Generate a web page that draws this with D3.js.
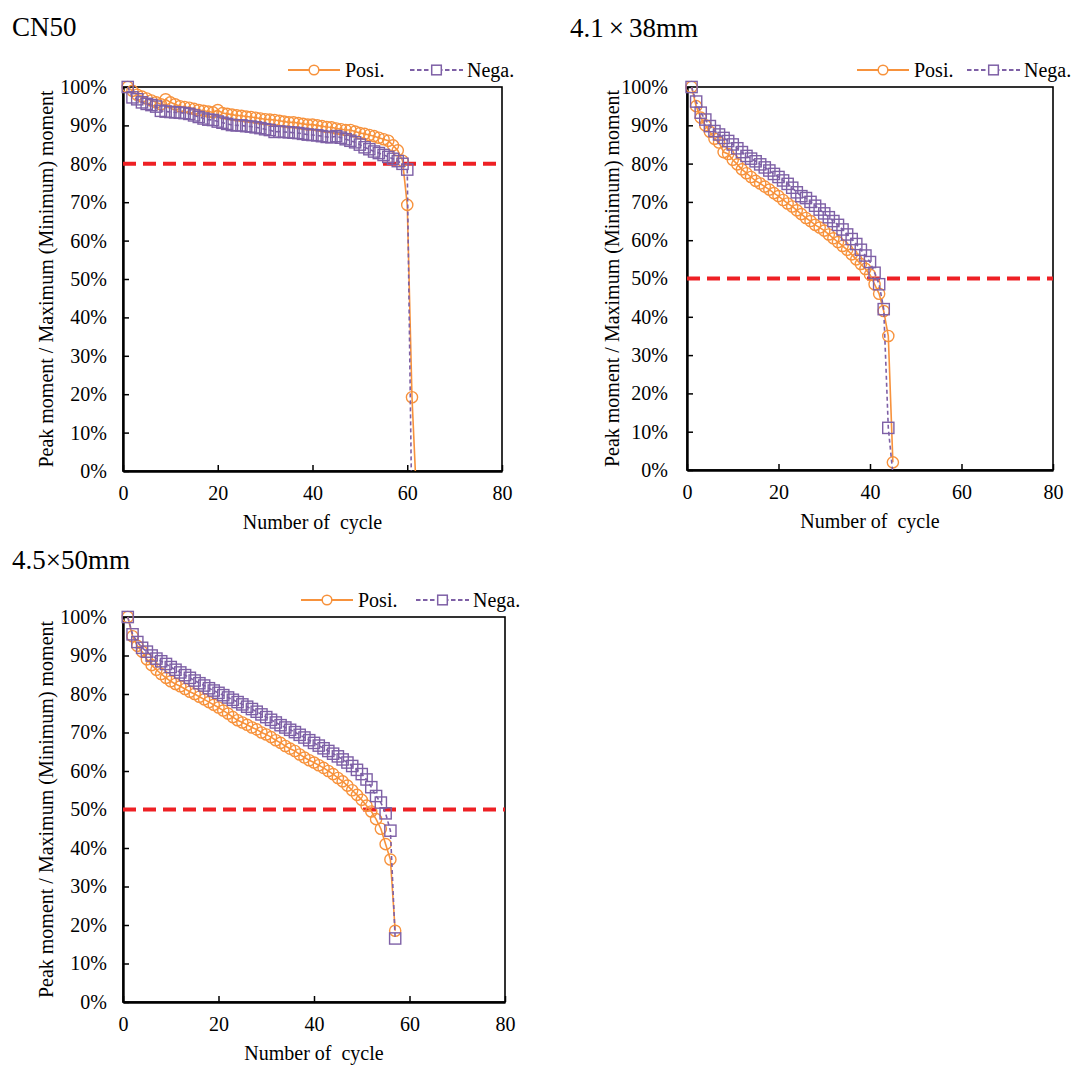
<!DOCTYPE html>
<html>
<head>
<meta charset="utf-8">
<script src="https://cdn.jsdelivr.net/npm/d3@7"></script>
<style>
  body { margin: 0; background: #fff; }
  svg text { font-family: "Liberation Serif", "Times New Roman", serif; fill: #000; }
</style>
</head>
<body>
<div id="chart"></div>
<script>
// values are % of the first-cycle peak moment, one entry per cycle starting at cycle 1
const cn50Posi = [100, 99, 98, 97.5, 97, 96.5, 96, 95.5, 96.8, 96,
  95.5, 95, 94.8, 94.6, 94.3, 94, 93.8, 93.6, 93.4, 94,
  93.2, 93, 92.8, 92.6, 92.5, 92.3, 92.2, 92, 91.8, 91.6,
  91.5, 91.4, 91.2, 91, 90.8, 90.8, 90.6, 90.4, 90.2, 90.2,
  90, 89.8, 89.6, 89.5, 89.2, 89, 88.8, 88.8, 88.4, 88,
  87.8, 87.5, 87.2, 86.8, 86.4, 86, 84.8, 83.5, 80.8, 69.3,
  19.2, -8];
const cn50Nega = [100, 97.3, 96.8, 96, 95.6, 95.3, 94.9, 93.8, 93.6, 93.5,
  93.4, 93.3, 93.2, 93, 92.6, 92.2, 91.8, 91.5, 91.4, 91,
  90.7, 90.4, 90.1, 90, 90, 89.8, 89.7, 89.5, 89.3, 89,
  88.8, 88.3, 88.4, 88.3, 88.2, 88.1, 88, 87.8, 87.6, 87.5,
  87.4, 87.2, 87, 86.9, 87.2, 86.8, 86.4, 86, 85.6, 85,
  84.3, 83.8, 83.2, 82.8, 82.3, 81.8, 81.3, 80.7, 80, 78.5,
  -14];
const s41Posi = [100, 95, 92, 90, 88.3, 86.5, 85.5, 83, 82.5, 81,
  79.8, 78.5, 77.5, 76.5, 75.5, 74.8, 74, 73.2, 72.3, 71.5,
  70.5, 69.6, 68.8, 67.8, 66.8, 65.8, 65, 64, 63.3, 62.5,
  61.5, 60.5, 59.5, 58.5, 57.5, 56.3, 55, 53.8, 52.5, 51,
  48.5, 46, 41.5, 35, 2];
const s41Nega = [100, 96.2, 93.3, 91.5, 89.8, 88.5, 87.6, 86.7, 85.9, 85,
  84, 83, 82, 81.3, 80.6, 79.8, 79, 78.2, 77.3, 76.5,
  75.6, 74.7, 73.7, 72.5, 71.5, 71, 70, 69, 68, 67,
  66, 65, 64, 62.8, 61.5, 60.3, 59, 57.5, 56, 54.3,
  51.5, 48.5, 42, 11, -1];
const s45Posi = [100, 95, 92.5, 91, 89, 87.5, 86.3, 85.2, 84.2, 83.3,
  82.6, 82, 81.3, 80.6, 80, 79.3, 78.6, 77.9, 77.2, 76.5,
  75.7, 74.9, 74, 73.2, 72.6, 72, 71.3, 70.8, 70, 69.5,
  68.8, 68, 67.3, 66.5, 65.8, 65.2, 64.3, 63.5, 62.8, 62.2,
  61.5, 60.8, 60, 59.2, 58.2, 57.3, 56.2, 55, 53.8, 52.5,
  51, 49.5, 47.5, 45, 41, 37, 18.5];
const s45Nega = [100, 95.5, 93.5, 92, 91, 90, 89.2, 88.5, 87.8, 87,
  86.3, 85.6, 84.9, 84.2, 83.5, 82.8, 82.2, 81.5, 80.9, 80.3,
  79.7, 79.1, 78.5, 77.9, 77.3, 76.7, 76.1, 75.4, 74.7, 74,
  73.3, 72.6, 71.9, 71.3, 70.7, 70.1, 69.4, 68.7, 68, 67.3,
  66.6, 65.9, 65.2, 64.5, 63.8, 63, 62.2, 61.3, 60.3, 59.2,
  57.8, 55.8, 53.5, 51.8, 49, 44.5, 16.5];

const titles = ["CN50", "4.1×38mm", "4.5×50mm"];
const limits = [80, 50, 50];
const seriesNames = ["Posi.", "Nega."];
const xTicks = [0, 20, 40, 60, 80];
const yTicks = [0, 10, 20, 30, 40, 50, 60, 70, 80, 90, 100];
const xTitle = "Number of  cycle";
const yTitle = "Peak moment / Maximum (Minimum) moment";

const orange = "#f7923c";
const purple = "#7e60a6";
const red = "#ee2024";
const serif = "'Liberation Serif', 'Times New Roman', serif";

const svg = d3.select("#chart").append("svg")
  .attr("width", 1073).attr("height", 1065);

const panels = [
  { id: "p1", left: 123, right: 502, top: 87, bottom: 471, posi: cn50Posi, nega: cn50Nega,
    title: titles[0], tx: 12, ty: 36, gap: 0, limit: limits[0], labelX: 46, yPad: 16,
    posiX: 288, negaX: 410, legY: 70 },
  { id: "p2", left: 687, right: 1053, top: 87, bottom: 470, posi: s41Posi, nega: s41Nega,
    title: titles[1], tx: 570, ty: 37, gap: 5, limit: limits[1], labelX: 612, yPad: 19,
    posiX: 857, negaX: 967, legY: 70 },
  { id: "p3", left: 123, right: 505, top: 617, bottom: 1002, posi: s45Posi, nega: s45Nega,
    title: titles[2], tx: 12, ty: 569, gap: 0, limit: limits[2], labelX: 46, yPad: 16,
    posiX: 301, negaX: 416, legY: 600 }
];

const drawPanel = (p) => {
  const x = d3.scaleLinear().domain([0, 80]).range([p.left, p.right]);
  const y = d3.scaleLinear().domain([0, 100]).range([p.bottom, p.top]);
  const g = svg.append("g");

  // title (the × keeps a bit of room like the full-width glyph)
  const parts = p.title.split("×");
  const t = g.append("text").attr("x", p.tx).attr("y", p.ty)
    .attr("font-family", serif).style("font-size", "27px");
  t.append("tspan").text(parts[0]);
  if (parts.length > 1) {
    t.append("tspan").attr("dx", p.gap).text("×");
    t.append("tspan").attr("dx", p.gap).text(parts[1]);
  }

  g.append("clipPath").attr("id", "clip-" + p.id)
    .append("rect")
    .attr("x", p.left).attr("y", p.top - 20)
    .attr("width", p.right - p.left).attr("height", p.bottom - p.top + 20);

  // plot frame
  g.append("rect")
    .attr("x", p.left).attr("y", p.top)
    .attr("width", p.right - p.left).attr("height", p.bottom - p.top)
    .attr("fill", "none").attr("stroke", "#000").attr("stroke-width", 1.6);

  const xAxis = g.append("g")
    .attr("transform", `translate(0,${p.bottom})`)
    .call(d3.axisBottom(x).tickValues(xTicks).tickSizeInner(-6).tickSizeOuter(0).tickPadding(15));
  const yAxis = g.append("g")
    .attr("transform", `translate(${p.left},0)`)
    .call(d3.axisLeft(y).tickValues(yTicks).tickSizeInner(-6).tickSizeOuter(0)
      .tickPadding(p.yPad).tickFormat((d) => d + "%"));
  [xAxis, yAxis].forEach((a) => {
    a.attr("font-family", serif).attr("font-size", 20);
    a.selectAll("text").attr("font-family", serif).style("font-size", "20px");
    a.selectAll("line").attr("stroke", "#000").attr("stroke-width", 1.5);
    a.select(".domain").attr("stroke", "#000").attr("stroke-width", 2.4);
  });

  g.append("text")
    .attr("x", (p.left + p.right) / 2).attr("y", p.bottom + 58)
    .attr("text-anchor", "middle").attr("font-family", serif).style("font-size", "20px")
    .style("white-space", "pre").text(xTitle);
  g.append("text")
    .attr("transform", `translate(${p.labelX},${(p.top + p.bottom) / 2}) rotate(-90)`)
    .attr("text-anchor", "middle").attr("dominant-baseline", "central")
    .attr("font-family", serif).style("font-size", "20px").text(yTitle);

  // limit line
  g.append("line")
    .attr("x1", p.left).attr("x2", p.right)
    .attr("y1", y(p.limit)).attr("y2", y(p.limit))
    .attr("stroke", red).attr("stroke-width", 4).attr("stroke-dasharray", "13,7");

  const line = d3.line().x((d, i) => x(i + 1)).y((d) => y(d));

  g.append("path").datum(p.posi)
    .attr("clip-path", `url(#clip-${p.id})`)
    .attr("d", line).attr("fill", "none")
    .attr("stroke", orange).attr("stroke-width", 1.6);
  g.append("g").selectAll("circle")
    .data(p.posi.map((v, i) => [i + 1, v]).filter((d) => d[1] >= 0))
    .join("circle")
    .attr("cx", (d) => x(d[0])).attr("cy", (d) => y(d[1])).attr("r", 5.6)
    .attr("fill", "none").attr("stroke", orange).attr("stroke-width", 1.4);

  g.append("path").datum(p.nega)
    .attr("clip-path", `url(#clip-${p.id})`)
    .attr("d", line).attr("fill", "none")
    .attr("stroke", purple).attr("stroke-width", 1.6).attr("stroke-dasharray", "4,3");
  g.append("g").selectAll("rect")
    .data(p.nega.map((v, i) => [i + 1, v]).filter((d) => d[1] >= 0))
    .join("rect")
    .attr("x", (d) => x(d[0]) - 5.6).attr("y", (d) => y(d[1]) - 5.6)
    .attr("width", 11.2).attr("height", 11.2)
    .attr("fill", "none").attr("stroke", purple).attr("stroke-width", 1.4);

  // legend
  const lp = g.append("g").attr("transform", `translate(${p.posiX},${p.legY})`);
  lp.append("line").attr("x1", 0).attr("x2", 52).attr("stroke", orange).attr("stroke-width", 1.8);
  lp.append("circle").attr("cx", 26).attr("r", 4.8).attr("fill", "#fff")
    .attr("stroke", orange).attr("stroke-width", 1.5);
  lp.append("text").attr("x", 57).attr("dy", "0.35em")
    .attr("font-family", serif).style("font-size", "20px").text(seriesNames[0]);
  const ln = g.append("g").attr("transform", `translate(${p.negaX},${p.legY})`);
  ln.append("line").attr("x1", 0).attr("x2", 53).attr("stroke", purple)
    .attr("stroke-width", 1.8).attr("stroke-dasharray", "4.5,2.5");
  ln.append("rect").attr("x", 26.5 - 4.8).attr("y", -4.8).attr("width", 9.6).attr("height", 9.6)
    .attr("fill", "#fff").attr("stroke", purple).attr("stroke-width", 1.5);
  ln.append("text").attr("x", 57).attr("dy", "0.35em")
    .attr("font-family", serif).style("font-size", "20px").text(seriesNames[1]);
};

panels.forEach(drawPanel);
</script>
</body>
</html>
